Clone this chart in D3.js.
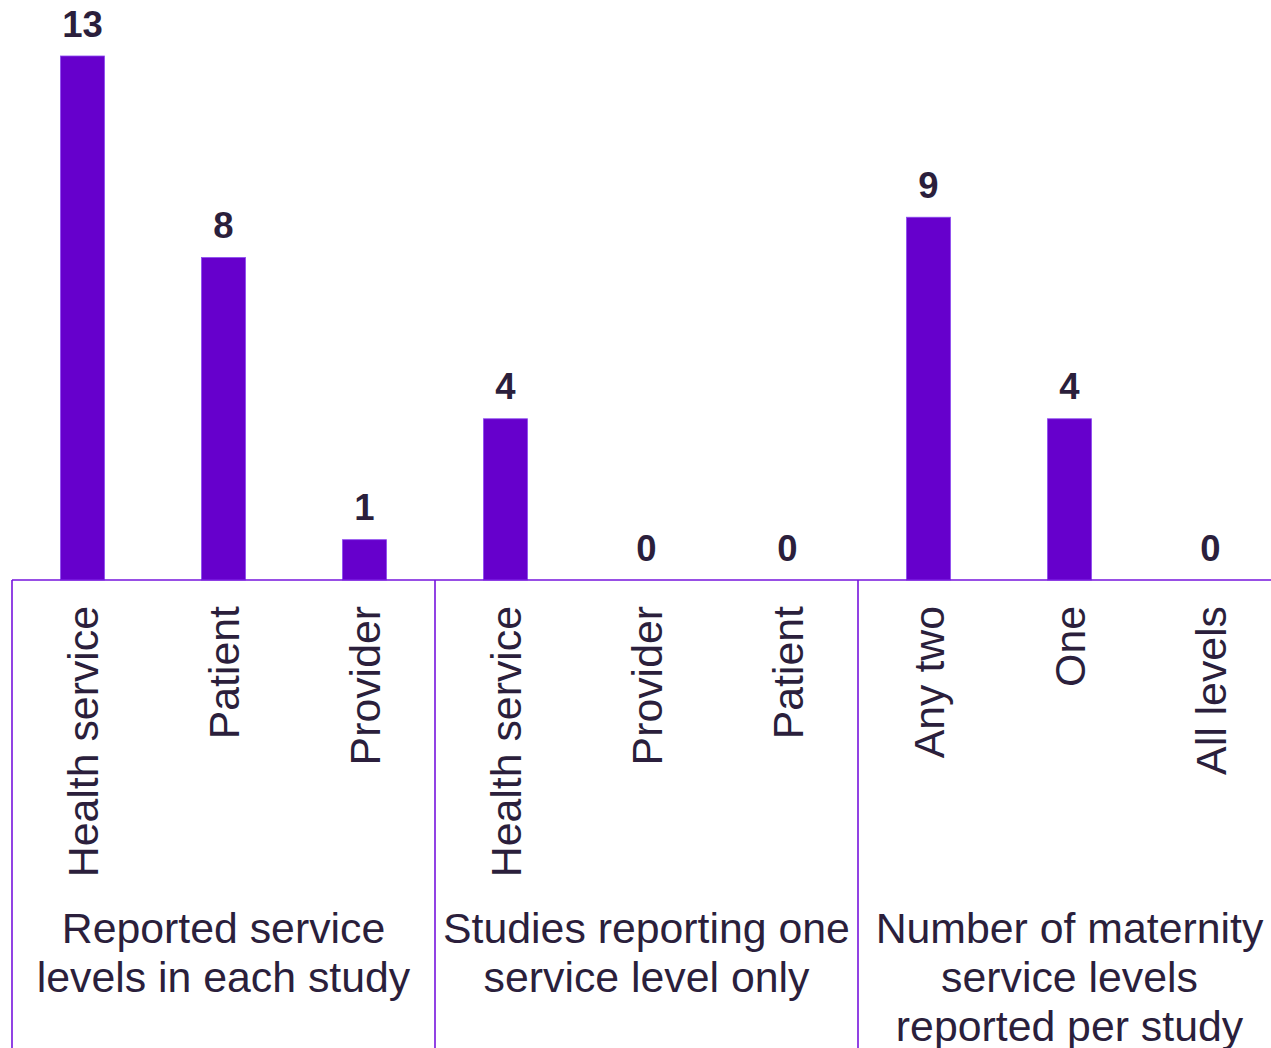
<!DOCTYPE html>
<html>
<head>
<meta charset="utf-8">
<script src="https://cdn.jsdelivr.net/npm/d3@7"></script>
<style>
  html, body { margin: 0; padding: 0; background: #ffffff; }
  svg { display: block; }
  text { font-family: "Liberation Sans", Arial, sans-serif; }
</style>
</head>
<body>
<svg id="chart" width="1271" height="1048"></svg>
<script>
// Bar categories, in drawing order
const categories = [
  "Health service", "Patient", "Provider",
  "Health service", "Provider", "Patient",
  "Any two", "One", "All levels"
];
// Number of studies for each bar
const counts = [13, 8, 1, 4, 0, 0, 9, 4, 0];
// Group captions, one per set of three bars (lines of each caption)
const groupLabels = [
  ["Reported service", "levels in each study"],
  ["Studies reporting one", "service level only"],
  ["Number of maternity", "service levels", "reported per study"]
];
const groupSize = 3;

const svg = d3.select("#chart");
const baseY = 580;
const left = 12, right = 1281;

const x = d3.scaleBand()
  .domain(d3.range(categories.length))
  .range([left, right])
  .paddingInner(0.688)
  .paddingOuter(0.344);

const y = d3.scaleLinear().domain([0, 13]).range([baseY, 56]);

const barColor = "#6600cc";
const lineColor = "#7614dd";
const textColor = "#2b1f3c";

// Bars
svg.append("g").selectAll("rect")
  .data(counts)
  .join("rect")
  .attr("x", (d, i) => x(i))
  .attr("y", d => y(d))
  .attr("width", x.bandwidth())
  .attr("height", d => baseY - y(d))
  .attr("fill", barColor)
  .attr("stroke", "#8c4af0")
  .attr("stroke-width", 0.8);

// Value labels
svg.append("g").selectAll("text")
  .data(counts)
  .join("text")
  .attr("x", (d, i) => x(i) + x.bandwidth() / 2)
  .attr("y", d => y(d) - 19.5)
  .attr("text-anchor", "middle")
  .attr("font-size", 36.5)
  .attr("font-weight", "bold")
  .attr("fill", textColor)
  .text(d => d);

// Baseline
svg.append("line")
  .attr("x1", left).attr("x2", 1271)
  .attr("y1", baseY).attr("y2", baseY)
  .attr("stroke", lineColor).attr("stroke-width", 1.6);

// Group separators
const step = x.step();
const groupEdges = d3.range(0, categories.length + 1, groupSize).map(i => left + i * step);
svg.append("g").selectAll("line")
  .data(groupEdges)
  .join("line")
  .attr("x1", d => d).attr("x2", d => d)
  .attr("y1", baseY).attr("y2", 1048)
  .attr("stroke", lineColor).attr("stroke-width", 1.6);

// Rotated category labels
svg.append("g").selectAll("text")
  .data(categories)
  .join("text")
  .attr("transform", (d, i) => `translate(${x(i) + x.bandwidth() / 2},606) rotate(-90)`)
  .attr("dy", "0.37em")
  .attr("text-anchor", "end")
  .attr("font-size", 42.8)
  .attr("fill", textColor)
  .text(d => d);

// Group captions
const gl = svg.append("g").selectAll("text")
  .data(groupLabels)
  .join("text")
  .attr("text-anchor", "middle")
  .attr("font-size", 42.8)
  .attr("fill", textColor)
  .attr("x", (d, i) => (groupEdges[i] + groupEdges[i + 1]) / 2)
  .attr("y", 943);
gl.selectAll("tspan")
  .data(d => d)
  .join("tspan")
  .attr("x", function() { return d3.select(this.parentNode).attr("x"); })
  .attr("dy", (d, j) => j === 0 ? 0 : 49)
  .text(d => d);
</script>
</body>
</html>
